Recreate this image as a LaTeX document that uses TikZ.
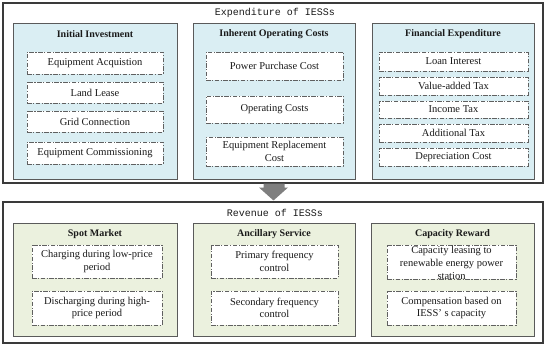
\documentclass[tikz,border=0pt]{standalone}
\usepackage{fontspec}
\setmainfont{Liberation Serif}
\newfontfamily\titlefont{Liberation Mono}
\definecolor{bluefill}{HTML}{DAEEF3}
\definecolor{greenfill}{HTML}{EBF1DE}
\definecolor{boxline}{HTML}{5A5A5A}
\definecolor{outerline}{HTML}{3A3A3A}
\definecolor{dashline}{HTML}{606060}
\definecolor{arrowgray}{HTML}{7F7F7F}
\definecolor{txt}{HTML}{1A1A1A}
\begin{document}
\begin{tikzpicture}[x=1pt,y=-1pt,
  outerbox/.style={draw=outerline,line width=1.1pt,fill=white,minimum width=540pt,inner sep=0pt},
  groupbox/.style={draw=boxline,line width=0.8pt,inner sep=0pt},
  bluebox/.style={groupbox,fill=bluefill,minimum height=156pt},
  greenbox/.style={groupbox,fill=greenfill,minimum height=113pt},
  grouptitle/.style={font=\fontsize{10}{12}\selectfont\bfseries,text=txt,inner sep=0pt},
  sectitle/.style={font=\titlefont\fontsize{10}{12}\selectfont,text=txt,inner sep=0pt},
  itembox/.style={draw=dashline,line width=0.6pt,fill=white,
    dash pattern=on 4.5pt off 1.5pt on 1.2pt off 1.5pt,inner sep=0pt,
    font=\fontsize{10.5}{12.5}\selectfont,text=txt,align=center},
]
\useasboundingbox (0,0) rectangle (550,348);
% expenditure
\node[outerbox,minimum height=180pt] (expbox) at (273,93) {};
\node[sectitle] (exptitle) at (275,13) {Expenditure of IESSs};
\node[bluebox,minimum width=164pt] (ga) at (95,101) {};
\node[bluebox,minimum width=162pt] (gb) at (274,101) {};
\node[bluebox,minimum width=162pt] (gc) at (453,101) {};
\node[grouptitle] (ta) at (95,34) {Initial Investment};
\node[grouptitle] (tb) at (274,34) {Inherent Operating Costs};
\node[grouptitle] (tc) at (453,34) {Financial Expenditure};
\node[itembox,minimum width=136pt,minimum height=22pt] (a1) at (95,63) {Equipment Acquistion};
\node[itembox,minimum width=136pt,minimum height=21pt] (a2) at (95,92.5) {Land Lease};
\node[itembox,minimum width=136pt,minimum height=21pt] (a3) at (95,121.5) {Grid Connection};
\node[itembox,minimum width=136pt,minimum height=22pt] (a4) at (95,153) {Equipment Commissioning};
\node[itembox,minimum width=137pt,minimum height=28pt] (b1) at (274.5,66) {Power Purchase Cost};
\node[itembox,minimum width=137pt,minimum height=27pt] (b2) at (274.5,109.5) {Operating Costs};
\node[itembox,minimum width=137pt,minimum height=29pt] (b3) at (274.5,151.5) {Equipment Replacement\\Cost};
\node[itembox,minimum width=149pt,minimum height=19pt] (c1) at (453.5,61.5) {Loan Interest};
\node[itembox,minimum width=149pt,minimum height=18pt] (c2) at (453.5,86) {Value-added Tax};
\node[itembox,minimum width=149pt,minimum height=17pt] (c3) at (453.5,109.5) {Income Tax};
\node[itembox,minimum width=149pt,minimum height=18pt] (c4) at (453.5,133) {Additional Tax};
\node[itembox,minimum width=149pt,minimum height=18pt] (c5) at (453.5,157) {Depreciation Cost};
% revenue
\node[outerbox,minimum height=141pt] (revbox) at (273,272.5) {};
\node[sectitle] (revtitle) at (275,213) {Revenue of IESSs};
\node[greenbox,minimum width=164pt] (gd) at (95,279.5) {};
\node[greenbox,minimum width=162pt] (ge) at (274,279.5) {};
\node[greenbox,minimum width=163pt] (gf) at (452.5,279.5) {};
\node[grouptitle] (td) at (95,234) {Spot Market};
\node[grouptitle] (te) at (274,234) {Ancillary Service};
\node[grouptitle] (tf) at (452.5,234) {Capacity Reward};
\node[itembox,minimum width=130pt,minimum height=33pt] (d1) at (97,261.5) {Charging during low-price\\period};
\node[itembox,minimum width=130pt,minimum height=34pt] (d2) at (97,308) {Discharging during high-\\price period};
\node[itembox,minimum width=127pt,minimum height=33pt] (e1) at (274.5,261.5) {Primary frequency\\control};
\node[itembox,minimum width=127pt,minimum height=34pt] (e2) at (274.5,308) {Secondary frequency\\control};
\node[itembox,minimum width=129pt,minimum height=34pt] (f1) at (451.5,262) {};
\node[font=\fontsize{10.5}{13}\selectfont,text=txt,align=center,inner sep=0pt] (f1t) at (451.5,263) {Capacity leasing to\\renewable energy power\\station};
\node[itembox,minimum width=129pt,minimum height=34pt] (f2) at (451.5,308) {Compensation based on\\IESS’ s capacity};
% block arrow between the two sections
\fill[arrowgray] ([xshift=-9.5pt]expbox.south) -- ([xshift=11.5pt]expbox.south)
  -- ([xshift=11.5pt,yshift=-4pt]expbox.south) -- ([xshift=15pt,yshift=-4pt]expbox.south)
  -- ([xshift=0.5pt,yshift=1pt]revbox.north) -- ([xshift=-14pt,yshift=-4pt]expbox.south)
  -- ([xshift=-9.5pt,yshift=-4pt]expbox.south) -- cycle;
\end{tikzpicture}
\end{document}
